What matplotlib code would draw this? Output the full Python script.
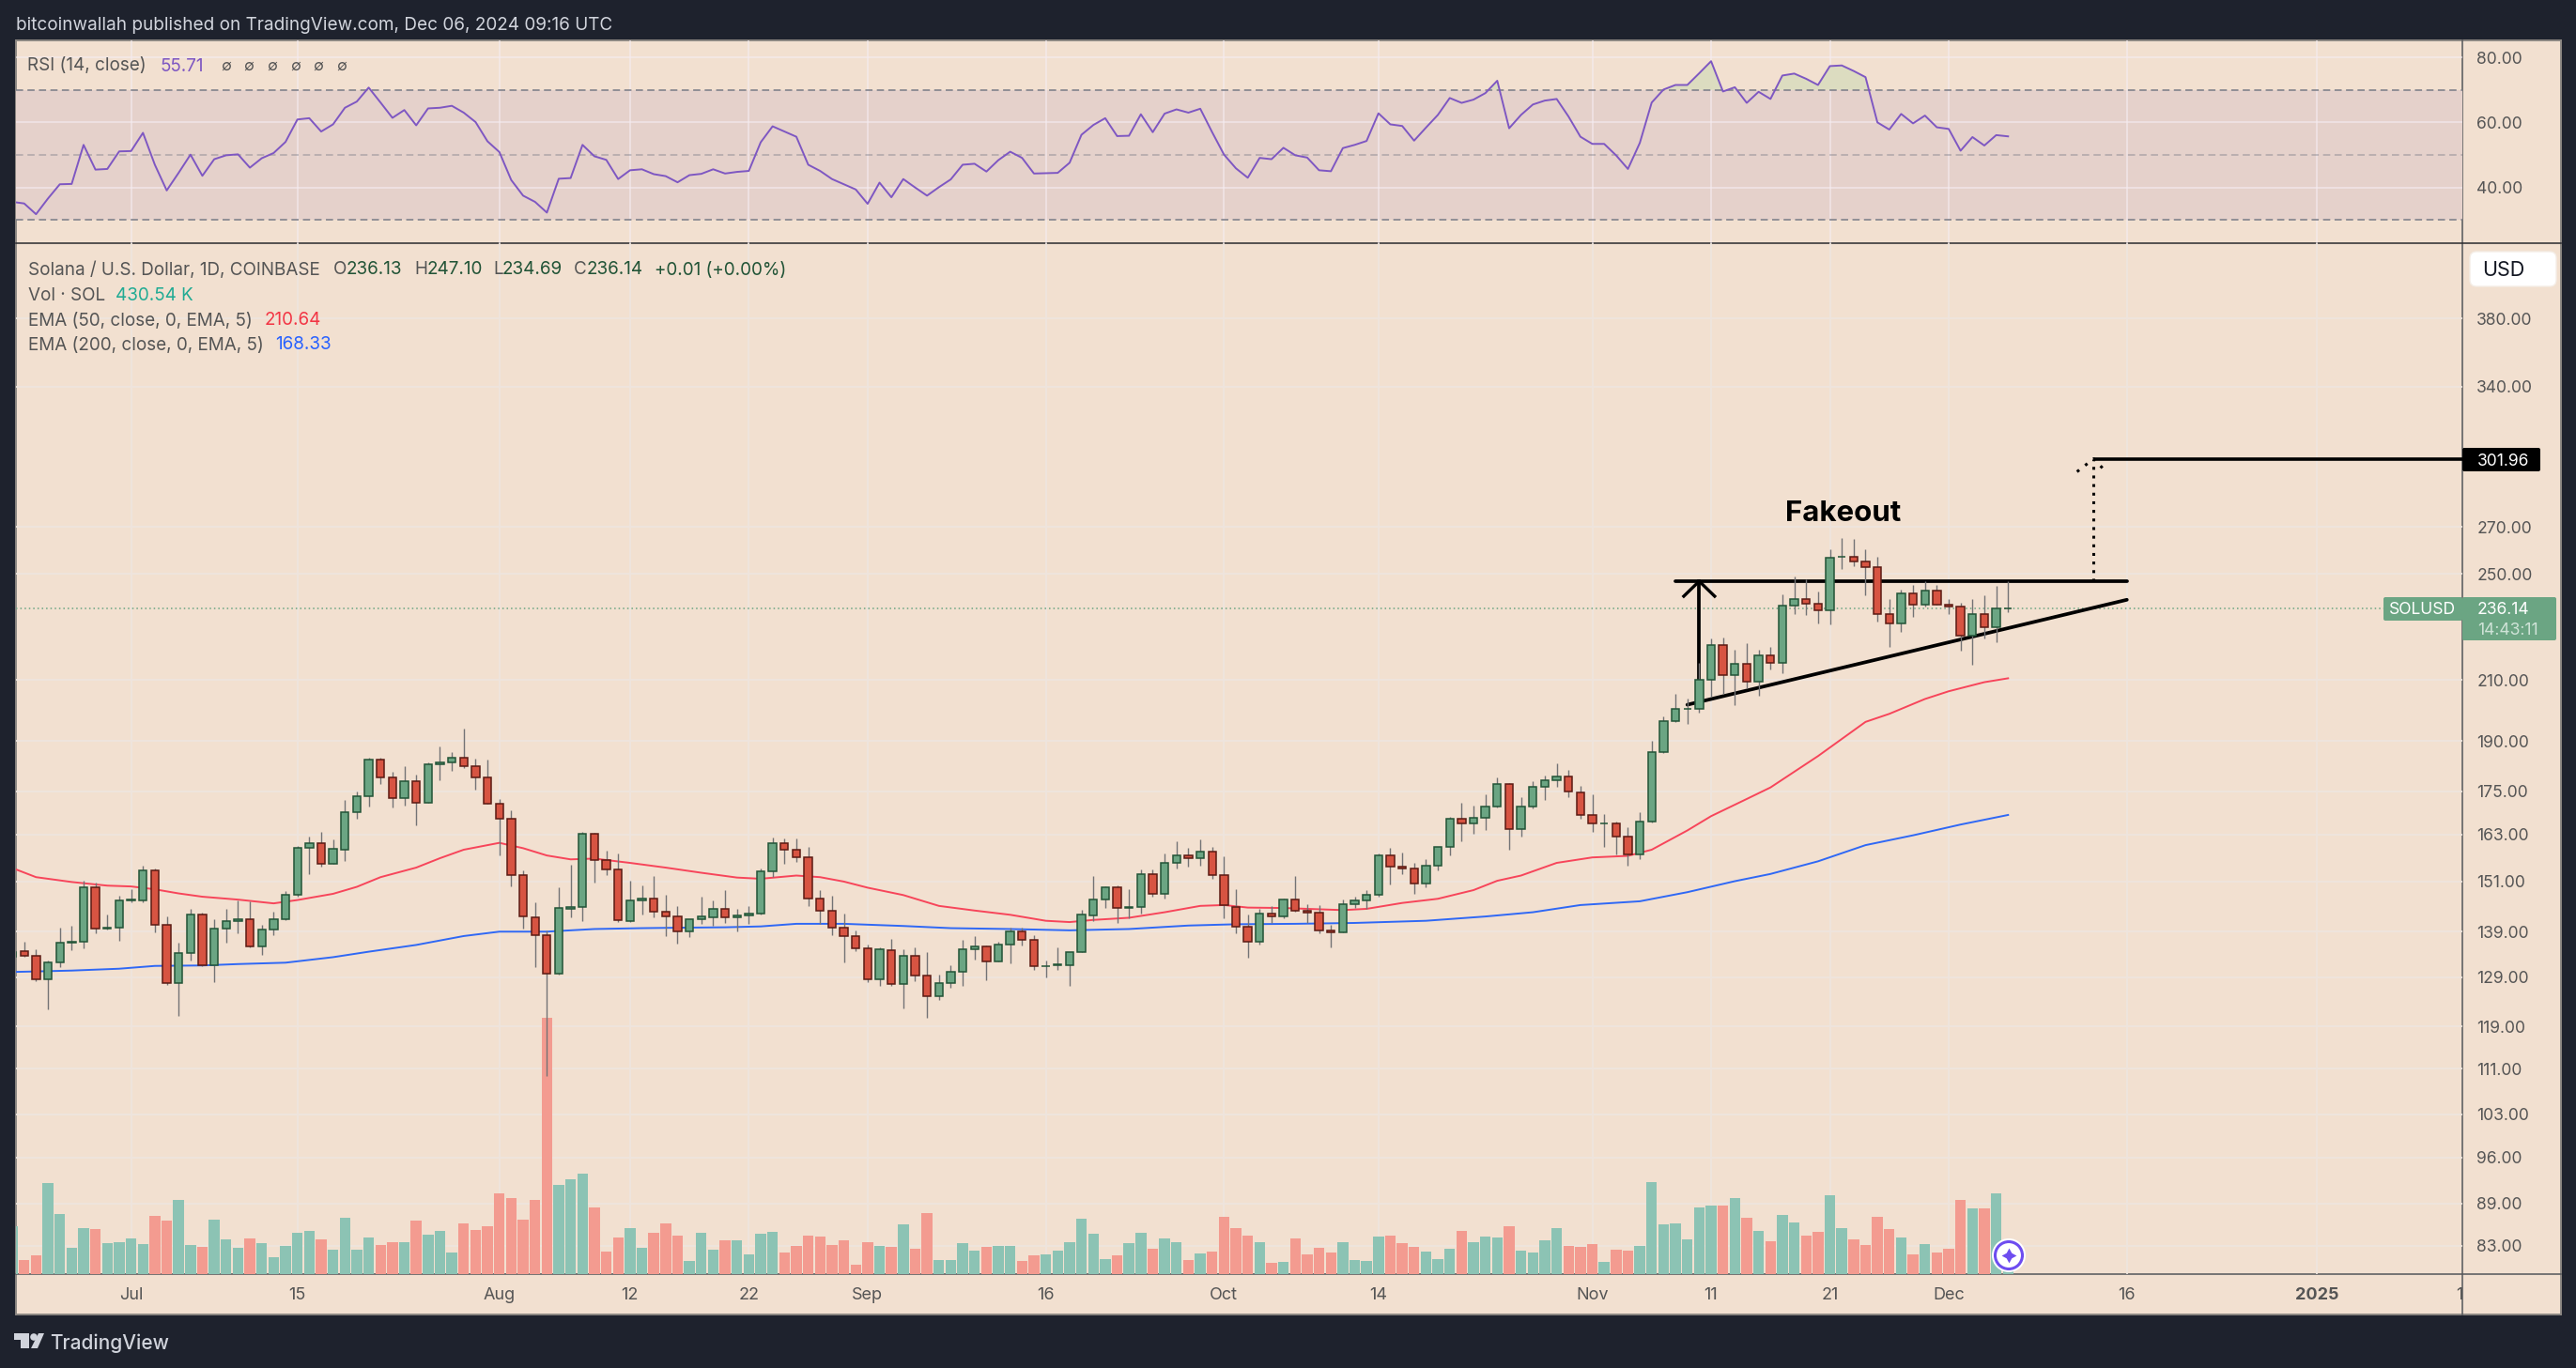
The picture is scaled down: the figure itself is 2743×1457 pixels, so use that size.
import numpy as np
import matplotlib
matplotlib.use("Agg")
import matplotlib.pyplot as plt
from matplotlib.patches import Rectangle, FancyBboxPatch, Circle, Polygon

plt.rcParams['font.family'] = ['Inter', 'DejaVu Sans']

# Data. Days are counted from 1 Jul 2024.

days = list(range(-10, 159))

opens = [
    133.4, 134.6, 133.6, 128.5, 132.2, 136.6, 136.7, 149.5, 139.6, 139.9,
    146.4, 146.4, 153.7, 140.5, 127.8, 134.2, 142.9, 131.5, 139.7, 141.4,
    141.8, 135.7, 139.5, 141.8, 147.7, 159.4, 160.7, 155.4, 159.1, 169.1,
    173.6, 184.3, 179.0, 173.1, 177.9, 171.8, 182.9, 183.4, 184.8, 182.3,
    179.0, 171.5, 167.3, 152.5, 142.2, 138.2, 129.7, 144.4, 144.7, 163.2,
    156.3, 153.9, 141.4, 146.2, 146.7, 143.6, 142.5, 139.0, 141.8, 142.2,
    144.2, 142.2, 142.7, 143.1, 153.5, 160.7, 158.9, 157.0, 146.7, 143.8,
    139.9, 138.0, 135.3, 128.6, 134.8, 127.6, 133.6, 129.3, 125.0, 127.8,
    130.2, 135.0, 135.7, 132.4, 136.1, 139.0, 137.1, 131.3, 131.5, 131.6,
    134.4, 142.7, 146.5, 149.5, 144.6, 144.7, 152.8, 147.9, 155.6, 157.5,
    156.8, 158.4, 152.5, 144.8, 140.1, 136.7, 143.1, 142.5, 146.5, 143.8,
    143.3, 139.3, 138.8, 145.4, 146.3, 147.7, 157.5, 154.6, 154.1, 150.4,
    154.9, 159.7, 167.3, 166.0, 167.5, 170.7, 177.1, 164.5, 170.7, 176.3,
    178.2, 179.3, 174.6, 168.3, 165.9, 166.0, 162.5, 157.7, 166.5, 186.6,
    196.4, 200.2, 200.2, 210.2, 222.6, 211.9, 215.6, 209.6, 218.6, 215.9,
    237.3, 240.0, 238.1, 235.5, 257.0, 257.3, 255.3, 252.9, 234.0, 230.3,
    242.3, 237.8, 243.4, 237.8, 237.0, 225.9, 234.0, 229.2, 236.13,
]

closes = [
    134.5, 133.6, 128.5, 132.2, 136.5, 136.8, 149.5, 139.7, 140.0, 146.3,
    146.6, 153.7, 140.5, 127.8, 134.2, 142.9, 131.5, 139.7, 141.4, 141.8,
    135.7, 139.5, 141.8, 147.7, 159.4, 160.7, 155.4, 159.2, 169.1, 173.6,
    184.3, 179.0, 173.1, 177.9, 171.8, 182.9, 183.4, 184.8, 182.3, 179.0,
    171.5, 167.3, 152.5, 142.5, 138.2, 129.7, 144.5, 144.7, 163.2, 156.3,
    153.9, 141.6, 146.3, 146.7, 143.6, 142.5, 139.0, 141.8, 142.5, 144.2,
    142.2, 142.7, 143.1, 153.5, 160.7, 158.9, 157.0, 146.7, 143.8, 139.9,
    138.0, 135.3, 128.6, 135.0, 127.6, 133.6, 129.3, 125.0, 127.8, 130.2,
    135.0, 135.7, 132.4, 136.1, 139.0, 137.1, 131.4, 131.4, 131.7, 134.4,
    142.9, 146.5, 149.5, 144.5, 144.8, 152.8, 147.9, 155.6, 157.5, 156.8,
    158.4, 152.5, 145.2, 140.1, 136.7, 143.1, 142.5, 146.5, 143.8, 143.3,
    139.3, 138.8, 145.4, 146.3, 147.7, 157.5, 154.6, 154.1, 150.4, 154.9,
    159.7, 167.3, 166.0, 167.5, 170.7, 177.1, 164.5, 170.7, 176.3, 178.2,
    179.3, 174.9, 168.3, 166.0, 166.1, 162.5, 157.7, 166.5, 186.6, 196.3,
    200.3, 200.4, 210.2, 222.6, 211.9, 215.6, 209.6, 218.6, 215.9, 237.4,
    240.0, 238.1, 235.5, 256.9, 257.2, 255.3, 252.9, 234.0, 230.3, 242.3,
    237.8, 243.4, 237.8, 237.0, 225.9, 234.0, 229.2, 236.2, 236.14,
]

highs = [
    134.8, 136.7, 135.1, 132.6, 140.0, 140.4, 151.1, 150.7, 143.0, 147.5,
    149.1, 154.9, 154.2, 142.5, 136.5, 144.3, 143.3, 141.8, 144.3, 146.3,
    146.0, 140.6, 143.6, 148.6, 160.0, 162.5, 163.8, 161.8, 172.6, 175.0,
    184.8, 184.8, 180.8, 182.4, 179.9, 183.6, 188.4, 186.7, 194.0, 184.5,
    184.4, 172.9, 169.5, 153.8, 145.9, 139.3, 149.6, 155.2, 163.8, 163.4,
    158.8, 158.0, 151.2, 150.0, 152.4, 147.7, 145.0, 141.8, 147.3, 146.4,
    148.9, 144.3, 145.0, 154.2, 162.3, 162.0, 162.0, 159.8, 148.9, 147.5,
    143.1, 139.3, 136.1, 135.5, 137.4, 135.1, 135.5, 134.5, 129.6, 131.6,
    137.2, 138.0, 135.9, 136.7, 139.9, 139.9, 138.1, 132.5, 135.5, 134.5,
    144.0, 152.4, 149.7, 150.0, 149.1, 154.0, 154.0, 158.0, 161.3, 159.5,
    161.6, 159.8, 157.3, 149.1, 142.9, 144.2, 145.0, 146.7, 152.4, 145.5,
    145.2, 140.5, 146.5, 147.3, 148.9, 158.0, 159.5, 158.3, 155.6, 156.6,
    159.7, 167.9, 171.6, 171.0, 174.0, 179.1, 177.3, 173.2, 178.0, 179.7,
    183.3, 181.3, 176.6, 174.0, 168.7, 166.6, 165.1, 169.2, 190.2, 197.9,
    205.4, 203.9, 216.1, 225.0, 225.2, 220.9, 223.0, 220.6, 221.9, 241.9,
    248.8, 247.9, 242.9, 260.3, 265.1, 264.6, 260.3, 257.0, 240.0, 243.8,
    245.6, 246.9, 245.6, 240.0, 238.5, 240.0, 241.3, 245.0, 247.10,
]

lows = [
    133.1, 133.3, 128.1, 122.3, 131.2, 134.9, 135.2, 138.7, 139.5, 137.0,
    145.8, 145.9, 138.9, 127.4, 121.1, 132.5, 131.4, 127.9, 136.6, 138.7,
    135.5, 133.9, 138.1, 141.7, 147.2, 152.7, 154.6, 155.3, 156.2, 167.4,
    170.6, 177.0, 170.3, 171.0, 165.4, 171.7, 178.1, 181.1, 181.7, 175.4,
    171.4, 157.6, 149.8, 139.8, 131.2, 109.7, 129.5, 142.3, 141.5, 150.7,
    152.5, 141.3, 141.3, 143.0, 142.4, 137.9, 136.2, 137.7, 140.7, 140.4,
    141.1, 139.0, 140.7, 142.9, 152.1, 155.3, 155.8, 145.0, 140.8, 138.1,
    132.1, 134.6, 127.9, 127.1, 127.1, 122.5, 128.1, 120.6, 124.2, 126.7,
    127.1, 132.7, 128.3, 132.3, 131.9, 135.8, 130.5, 128.9, 130.5, 127.1,
    134.4, 141.5, 144.5, 141.1, 142.1, 143.2, 147.3, 146.7, 154.1, 154.7,
    155.0, 151.7, 142.1, 138.7, 133.1, 136.0, 141.1, 142.0, 143.6, 141.0,
    138.6, 135.4, 138.8, 144.5, 144.3, 147.1, 150.3, 152.8, 147.8, 149.6,
    153.6, 157.6, 161.3, 163.1, 164.1, 170.3, 159.0, 162.4, 170.1, 172.4,
    176.4, 173.2, 167.4, 163.6, 159.7, 157.8, 155.0, 156.6, 166.3, 186.2,
    196.1, 195.6, 199.2, 204.5, 205.4, 201.5, 207.2, 204.8, 213.7, 212.4,
    234.1, 233.8, 230.4, 230.0, 252.0, 253.1, 241.4, 231.3, 221.8, 227.4,
    233.1, 236.9, 237.6, 234.1, 220.4, 215.4, 224.8, 223.4, 234.69,
]

# volume in thousands of SOL
volumes = [
    918, 270, 360, 1746, 1152, 504, 882, 864, 594, 612,
    684, 576, 1116, 1026, 1422, 558, 522, 1044, 666, 504,
    684, 594, 324, 540, 792, 828, 666, 468, 1080, 468,
    702, 558, 612, 612, 1026, 756, 828, 414, 972, 846,
    918, 1548, 1458, 1044, 1422, 4914, 1710, 1818, 1926, 1278,
    432, 702, 882, 504, 792, 972, 738, 252, 792, 468,
    648, 648, 378, 774, 810, 414, 540, 738, 720, 558,
    648, 180, 612, 540, 522, 954, 486, 1170, 270, 270,
    594, 450, 522, 540, 540, 252, 360, 378, 450, 612,
    1062, 774, 288, 360, 594, 792, 486, 684, 612, 270,
    396, 432, 1098, 882, 738, 612, 216, 234, 684, 378,
    504, 414, 612, 270, 252, 720, 738, 594, 522, 432,
    288, 486, 828, 612, 720, 702, 918, 450, 414, 648,
    882, 540, 522, 576, 234, 468, 450, 540, 1764, 954,
    972, 666, 1278, 1314, 1314, 1458, 1080, 828, 630, 1134,
    990, 738, 810, 1512, 882, 666, 558, 1098, 864, 702,
    378, 576, 414, 486, 1422, 1260, 1260, 1548, 430.54,
]

ema50_days = [
    -10, -8, -5, -2, 0, 2, 4, 6, 9, 12, 14, 17, 19, 21, 24, 26, 28, 31, 33, 35,
    37, 39, 42, 45, 48, 51, 53, 56, 58, 60, 62, 65, 68, 71, 74, 77, 79, 81, 84,
    87, 90, 92, 94, 97, 100, 102, 104, 107, 110, 113, 115, 117, 120, 123, 126,
    128, 131, 133, 136, 138, 142, 146, 148, 151, 153, 156, 158,
]
ema50_values = [
    154.3, 152.0, 150.8, 149.9, 149.7, 149.0, 148.0, 147.2, 146.5, 145.6, 146.4,
    147.9, 149.6, 152.0, 154.4, 156.8, 159.0, 160.8, 159.4, 157.5, 156.5, 156.7,
    155.6, 154.4, 153.1, 151.9, 151.6, 152.4, 152.0, 150.9, 149.4, 147.6, 145.0,
    143.9, 142.9, 141.5, 141.2, 141.7, 142.2, 143.5, 145.0, 145.2, 144.6, 144.5,
    144.2, 144.0, 144.3, 145.7, 146.7, 148.8, 151.1, 152.4, 155.6, 157.0, 157.4,
    159.0, 164.1, 168.0, 172.8, 176.1, 185.4, 196.1, 198.7, 203.6, 206.2, 209.3,
    210.64,
]

ema200_days = [
    -10, -5, -1, 2, 6, 9, 13, 17, 20, 24, 28, 31, 35, 39, 43, 46, 50, 53, 56, 60,
    65, 69, 74, 79, 84, 89, 93, 98, 103, 109, 114, 118, 122, 127, 131, 135, 138,
    142, 146, 150, 154, 158,
]
ema200_values = [
    130.1, 130.4, 130.8, 131.4, 131.5, 131.8, 132.1, 133.3, 134.5, 136.0, 138.0,
    139.0, 139.0, 139.6, 139.8, 139.9, 140.0, 140.2, 140.8, 140.8, 140.3, 139.8,
    139.6, 139.3, 139.6, 140.4, 140.7, 140.8, 141.0, 141.5, 142.5, 143.5, 145.2,
    146.1, 148.3, 151.0, 152.8, 156.0, 160.2, 162.8, 165.7, 168.33,
]

rsi_values = [
    35.6, 35.1, 31.8, 36.6, 41.0, 41.1, 53.1, 45.5, 45.7, 51.1,
    51.2, 56.8, 47.0, 39.1, 44.5, 50.1, 43.6, 48.7, 49.9, 50.2,
    46.1, 49.0, 50.6, 54.0, 60.9, 61.3, 57.2, 59.4, 64.5, 66.4,
    70.7, 66.1, 61.4, 63.8, 59.1, 64.3, 64.5, 65.1, 63.0, 60.1,
    54.2, 50.9, 42.3, 37.5, 35.6, 32.3, 42.7, 42.9, 53.1, 49.6,
    48.5, 42.6, 45.3, 45.6, 44.1, 43.5, 41.6, 43.8, 44.2, 45.6,
    44.3, 44.8, 45.1, 53.9, 58.8, 57.2, 55.6, 47.0, 45.1, 42.6,
    41.0, 39.4, 35.0, 41.5, 37.0, 42.6, 40.0, 37.5, 40.1, 42.5,
    47.0, 47.3, 44.9, 48.4, 51.0, 49.1, 44.3, 44.4, 44.5, 47.6,
    56.2, 59.2, 61.3, 55.8, 55.9, 62.5, 57.0, 62.7, 64.0, 63.0,
    64.2, 57.0, 50.1, 45.9, 43.0, 49.1, 48.7, 52.2, 49.9, 49.2,
    45.3, 45.0, 52.1, 53.1, 54.3, 62.8, 59.4, 58.9, 54.4, 58.4,
    62.3, 67.5, 66.0, 67.0, 69.0, 72.8, 58.2, 62.3, 65.5, 66.7,
    67.2, 61.8, 55.6, 53.4, 53.4, 49.9, 45.7, 53.7, 66.1, 70.1,
    71.5, 71.5, 75.1, 78.8, 69.5, 70.8, 66.0, 69.4, 67.2, 74.4,
    75.0, 73.4, 71.5, 77.3, 77.5, 75.8, 73.9, 60.0, 57.8, 62.6,
    59.7, 62.1, 58.5, 58.0, 51.3, 55.5, 52.9, 56.1, 55.71,
]

price_ticks = [380, 340, 270, 250, 210, 190, 175, 163, 151, 139, 129, 119, 111, 103, 96, 89, 83]
rsi_ticks = [80, 60, 40]
time_ticks = [0, 14, 31, 42, 52, 62, 77, 92, 105, 123, 133, 143, 153, 168, 184, 196.4]
time_labels = ['Jul', '15', 'Aug', '12', '22', 'Sep', '16', 'Oct', '14', 'Nov', '11', '21', 'Dec', '16', '2025', '13']

last_price = 236.14
target_price = 301.96
resistance_price = 247

# Colours

BG = '#1e222d'
PANEL = '#f2e0d0'
GRID = '#eee5de'
TEXT = '#555555'
UP = '#6ba583'
DOWN = '#d75442'
UP_EDGE = '#225437'
DOWN_EDGE = '#5b1a13'
WICK = '#737375'
VOL_UP = '#8cc3b4'
VOL_DOWN = '#f39b90'
EMA50 = '#f7455a'
EMA200 = '#2f68f5'
RSI = '#7e57c2'

W, H = 2743, 1457
LEFT, RIGHT = 17, 2622
AXIS_RIGHT = 2727
TOP, DIVIDER, BOTTOM, FOOT = 43, 259, 1357, 1400


def rect(x0, y0, x1, y1):
    return [x0 / W, 1 - y1 / H, (x1 - x0) / W, (y1 - y0) / H]


fig = plt.figure(figsize=(W / 100, H / 100), dpi=100, facecolor=BG)

# Panel background and frame, in pixels

chrome = fig.add_axes([0, 0, 1, 1], zorder=0)
chrome.set_xlim(0, W)
chrome.set_ylim(H, 0)
chrome.axis('off')
chrome.add_patch(Rectangle((LEFT, TOP), AXIS_RIGHT - LEFT, FOOT - TOP, fc=PANEL, ec='#8c8782', lw=1.4))
chrome.plot([RIGHT, RIGHT], [TOP, FOOT], color='#54565a', lw=1.1)
chrome.plot([LEFT, AXIS_RIGHT], [DIVIDER, DIVIDER], color='#2a2a2e', lw=1.1)
chrome.plot([LEFT, AXIS_RIGHT], [BOTTOM, BOTTOM], color='#54565a', lw=1.1)

xlim = (-9.69, 196.24)
grid_days = time_ticks[:-1]

# RSI pane

ax_rsi = fig.add_axes(rect(LEFT, TOP, RIGHT, DIVIDER), zorder=2)
ax_rsi.patch.set_alpha(0)
ax_rsi.set_xlim(xlim)
ax_rsi.set_ylim(22.9, 85.2)
ax_rsi.axhspan(30, 70, color='#e5d1cb', lw=0, zorder=0.5)
ax_rsi.set_xticks(grid_days)
ax_rsi.set_xticklabels([])
ax_rsi.set_yticks(rsi_ticks)
ax_rsi.set_yticklabels([f'{t:.2f}' for t in rsi_ticks])
ax_rsi.yaxis.tick_right()
ax_rsi.tick_params(length=0, labelsize=12.6, labelcolor=TEXT, pad=11)
ax_rsi.grid(True, color='#f5ecf2', lw=1.2, alpha=0.7)
ax_rsi.set_axisbelow(True)
ax_rsi.axhline(70, color='#787b86', lw=1.1, ls=(0, (5, 3)), zorder=1.5)
ax_rsi.axhline(30, color='#787b86', lw=1.1, ls=(0, (5, 3)), zorder=1.5)
ax_rsi.axhline(50, color='#787b86', lw=1.1, ls=(0, (5, 3)), alpha=0.5, zorder=1.5)
rsi_arr = np.array(rsi_values)
ax_rsi.fill_between(days, rsi_arr, 70, where=rsi_arr > 70, interpolate=True,
                    color='#dcdcc0', lw=0, zorder=1.2)
ax_rsi.plot(days, rsi_values, color=RSI, lw=1.4, zorder=3)
for side in ax_rsi.spines.values():
    side.set_visible(False)

# Price pane: grid and labels at the bottom, then volume, then candles

price_lim = (79.25, 430.1)

ax_price = fig.add_axes(rect(LEFT, DIVIDER, RIGHT, BOTTOM), zorder=1)
ax_price.patch.set_alpha(0)
ax_price.set_xlim(xlim)
ax_price.set_yscale('log')
ax_price.set_ylim(price_lim)
ax_price.set_xticks(grid_days)
ax_price.set_xticklabels([])
ax_price.set_yticks(price_ticks)
ax_price.set_yticklabels([f'{t:.2f}' for t in price_ticks])
ax_price.minorticks_off()
ax_price.yaxis.tick_right()
ax_price.tick_params(length=0, labelsize=12.6, labelcolor=TEXT, pad=11)
ax_price.grid(True, color=GRID, lw=1.3)
for side in ax_price.spines.values():
    side.set_visible(False)

ups = [c >= o for o, c in zip(opens, closes)]

ax_vol = fig.add_axes(rect(LEFT, DIVIDER, RIGHT, BOTTOM), zorder=1.5)
ax_vol.patch.set_alpha(0)
ax_vol.set_xlim(xlim)
ax_vol.set_ylim(-6, 19758)
ax_vol.bar(days, volumes, width=0.9, color=[VOL_UP if u else VOL_DOWN for u in ups], lw=0)
ax_vol.axis('off')

ax_main = fig.add_axes(rect(LEFT, DIVIDER, RIGHT, BOTTOM), zorder=1.8)
ax_main.patch.set_alpha(0)
ax_main.set_xlim(xlim)
ax_main.set_yscale('log')
ax_main.set_ylim(price_lim)
ax_main.axis('off')

ax_main.axhline(last_price, color=UP, lw=1.1, ls=(0, (1, 2)), zorder=1)

# Hand drawn pattern lines sit under the candles
ax_main.plot([130, 168], [resistance_price, resistance_price], color='black', lw=2.7, zorder=2, solid_capstyle='round')
ax_main.plot([131, 168], [201.7, 239.6], color='black', lw=2.7, zorder=2, solid_capstyle='round')
ax_main.plot([132, 132], [202.5, resistance_price], color='black', lw=2.7, zorder=2)
ax_main.plot([130.7, 132, 133.3], [241, resistance_price, 241], color='black', lw=2.4, zorder=2)
ax_main.plot([165.2, 165.2], [resistance_price, target_price], color='black', lw=2.2, ls=(0, (1, 2)), zorder=2)
ax_main.plot([163.8, 165.2, 166.2], [295.6, target_price, 295.9], color='black', lw=2.2, ls=(0, (1, 2.6)), zorder=2)
ax_main.plot([165.3, xlim[1]], [target_price, target_price], color='black', lw=2.6, zorder=2)

ax_main.plot(ema50_days, ema50_values, color=EMA50, lw=1.4, zorder=3)
ax_main.plot(ema200_days, ema200_values, color=EMA200, lw=1.4, zorder=3)

ax_main.vlines(days, lows, highs, color=WICK, lw=1.0, zorder=4)
ax_main.bar(days, np.abs(np.array(closes) - np.array(opens)), bottom=np.minimum(opens, closes), width=0.66,
            color=[UP if u else DOWN for u in ups],
            edgecolor=[UP_EDGE if u else DOWN_EDGE for u in ups], lw=1.1, zorder=5)

ax_main.text(144.1, 275.9, 'Fakeout', fontsize=22.5, fontweight='bold', color='black', ha='center', va='center', zorder=6)

# Time axis

ax_time = fig.add_axes(rect(LEFT, BOTTOM, RIGHT, FOOT), zorder=2)
ax_time.patch.set_alpha(0)
ax_time.set_xlim(xlim)
ax_time.set_ylim(0, 1)
ax_time.axis('off')
for t, name in zip(time_ticks, time_labels):
    ax_time.text(t, 0.47, name, fontsize=13, color=TEXT, ha='center', va='center', clip_on=True,
                 fontweight='bold' if name == '2025' else 'normal')

# Text and badges, in pixels

top = fig.add_axes([0, 0, 1, 1], zorder=5)
top.patch.set_alpha(0)
top.set_xlim(0, W)
top.set_ylim(H, 0)
top.axis('off')


def label(x, y, s, color=TEXT, size=13.6, **kw):
    top.text(x, y + 1.5, s, color=color, fontsize=size, va='center', **kw)


label(17, 25, 'bitcoinwallah published on TradingView.com, Dec 06, 2024 09:16 UTC', color='#d1d4dc', size=13.65)

label(29, 69, 'RSI (14, close)')
label(170, 69, '55.71', color=RSI)
for x in [235, 259, 284, 309, 333, 358]:
    label(x, 69, '∅', size=11.5)

label(30, 286, 'Solana / U.S. Dollar, 1D, COINBASE')
for x, s in [(355, 'O'), (441, 'H'), (525, 'L'), (611, 'C')]:
    label(x, 286, s)
for x, s in [(369, '236.13'), (455, '247.10'), (535, '234.69'), (625, '236.14'), (697, '+0.01 (+0.00%)')]:
    label(x, 286, s, color=UP_EDGE)
label(30, 313, 'Vol · SOL')
label(123, 313, '430.54 K', color='#22ab94')
label(30, 340, 'EMA (50, close, 0, EMA, 5)')
label(282, 340, '210.64', color='#f23645')
label(30, 366, 'EMA (200, close, 0, EMA, 5)')
label(293, 366, '168.33', color='#2962ff')

top.add_patch(FancyBboxPatch((2630, 268), 92, 37, boxstyle='round,pad=0,rounding_size=7', fc='white', ec='#f4ede6', lw=1))
label(2643, 286, 'USD', color='#131722', size=15.5)

top.add_patch(FancyBboxPatch((2622, 477), 83, 25, boxstyle='round,pad=0,rounding_size=2', fc='black', ec='none'))
label(2638, 489.5, '301.96', color='white', size=12.6)

top.add_patch(FancyBboxPatch((2538, 636), 84, 25, boxstyle='round,pad=0,rounding_size=2', fc=UP, ec='none'))
top.add_patch(FancyBboxPatch((2622, 636), 100, 46, boxstyle='round,pad=0,rounding_size=2', fc=UP, ec='none'))
label(2544, 648.5, 'SOLUSD', color='white', size=12.6)
label(2638, 648.5, '236.14', color='white', size=12.6)
label(2638, 670, '14:43:11', color='#cfe3d7', size=12.6)

# Assistant badge on the volume pane
top.add_patch(Circle((2139, 1337), 18, fc='white', ec='none'))
top.add_patch(Circle((2139, 1337), 14.5, fc='white', ec='#6e4df0', lw=2.2))
top.scatter([2139], [1337], marker=(4, 1, 0), s=130, color='#6e4df0', lw=0)

# TradingView mark
top.add_patch(Polygon([(15, 1420), (31, 1420), (31, 1436), (22, 1436), (22, 1427), (15, 1427)], fc='#d1d4dc', ec='none'))
top.add_patch(Circle((36, 1424), 3.8, fc='#d1d4dc', ec='none'))
top.add_patch(Polygon([(41, 1420), (47, 1420), (40, 1436), (33, 1436)], fc='#d1d4dc', ec='none'))
label(53, 1429, 'TradingView', color='#d1d4dc', size=15, fontweight='medium')

fig.savefig('out.png', dpi=100, facecolor=BG)
